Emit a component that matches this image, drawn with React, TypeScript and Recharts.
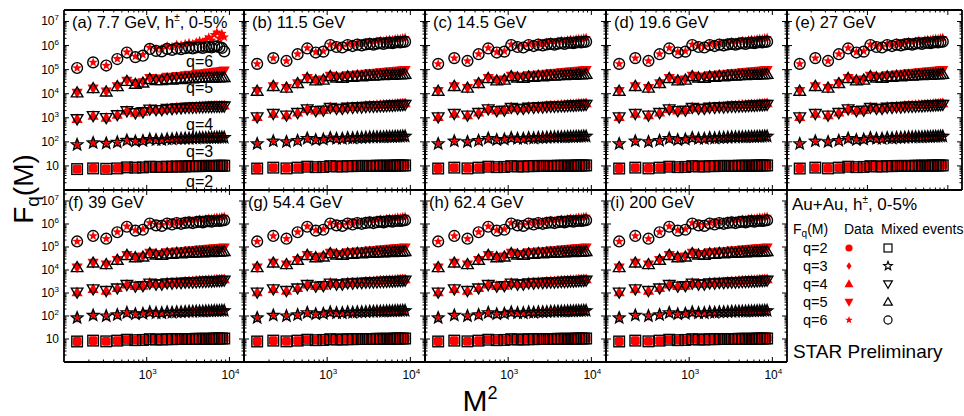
import React from 'react';
import { ScatterChart, Scatter, XAxis, YAxis } from 'recharts';

const FONT = '"Liberation Sans", Arial, Helvetica, sans-serif';
const RED = '#ff0000';

// M^2 values (M = 12, 15, ..., 93)
const M2 = [144, 225, 324, 441, 576, 729, 900, 1089, 1296, 1521, 1764, 2025, 2304, 2601, 2916, 3249, 3600, 3969, 4356, 4761, 5184, 5625, 6084, 6561, 7056, 7569, 8100, 8649];

const TITLES = ['(a) 7.7 GeV', '(b) 11.5 GeV', '(c) 14.5 GeV', '(d) 19.6 GeV', '(e) 27 GeV', '(f) 39 GeV', '(g) 54.4 GeV', '(h) 62.4 GeV', '(i) 200 GeV'];
const Q_LABELS = ['q=2', 'q=3', 'q=4', 'q=5', 'q=6'];
const X_MAJOR = [1000, 10000];
const Y_MAJOR = [10, 100, 1000, 10000, 100000, 1000000, 10000000];

// Panel (a) 7.7 GeV
const A_MIX_Q2 = [7.4, 7.9, 7.6, 7.9, 8.7, 8.5, 8.7, 9.3, 9.1, 9.1, 9.3, 9.3, 9.5, 9.5, 9.5, 9.8, 9.8, 9.8, 9.8, 10, 10, 10, 10, 10, 10, 10.2, 10.2, 10.2];
const A_DATA_Q2 = [7.4, 7.9, 7.6, 7.9, 8.7, 8.5, 8.7, 9.3, 9.1, 9.2, 9.4, 9.4, 9.6, 9.6, 9.6, 9.9, 9.9, 9.9, 9.9, 10.1, 10.1, 10.1, 10.1, 10.2, 10.2, 10.3, 10.4, 10.4];
const A_MIX_Q3 = [76, 91, 87, 96, 115, 105, 110, 126, 120, 120, 129, 129, 135, 135, 138, 138, 141, 141, 145, 145, 145, 148, 148, 148, 151, 151, 151, 151];
const A_DATA_Q3 = [76, 91, 87, 96, 116, 106, 111, 128, 122, 122, 131, 131, 138, 138, 141, 141, 145, 145, 149, 149, 149, 153, 153, 153, 156, 156, 157, 157];
const A_MIX_Q4 = [891, 1200, 1000, 1320, 1910, 1580, 1740, 2240, 2140, 2140, 2400, 2340, 2510, 2510, 2630, 2690, 2690, 2750, 2820, 2820, 2880, 2880, 2880, 2950, 2950, 2950, 3020, 3020];
const A_DATA_Q4 = [891, 1200, 1000, 1330, 1950, 1620, 1780, 2290, 2210, 2210, 2500, 2450, 2630, 2630, 2750, 2820, 2820, 2900, 2980, 2980, 3050, 3060, 3060, 3150, 3160, 3160, 3240, 3250];
const A_MIX_Q5 = [11000, 16600, 12000, 20000, 33100, 25100, 28200, 39800, 35500, 35500, 39800, 38000, 41700, 39800, 42700, 43700, 42700, 44700, 45700, 44700, 45700, 46800, 45700, 46800, 47900, 46800, 47900, 47900];
const A_DATA_Q5 = [11000, 16600, 12300, 20400, 34700, 26900, 30200, 44700, 41700, 42700, 50100, 49000, 55000, 53700, 58900, 61700, 60300, 66100, 69200, 67600, 72400, 75900, 74100, 79400, 83200, 81300, 87100, 91200];
const A_MIX_Q6 = [117000, 200000, 148000, 275000, 513000, 331000, 380000, 724000, 603000, 575000, 724000, 661000, 759000, 708000, 776000, 813000, 759000, 832000, 851000, 794000, 871000, 891000, 832000, 912000, 933000, 851000, 794000, 575000];
const A_DATA_Q6 = [117000, 200000, 148000, 282000, 537000, 355000, 417000, 832000, 724000, 724000, 955000, 891000, 1100000, 1050000, 1200000, 1320000, 1200000, 1410000, 1580000, 1380000, 1780000, 2240000, 1660000, 2820000, 3550000, 2000000, 3160000, 2240000];

// Panels (b)-(i): values read as common to these energies
const MIX_Q2 = [7.8, 8.5, 7.9, 8.5, 9.3, 8.9, 9.1, 9.8, 9.5, 9.5, 9.8, 9.8, 10, 10, 10, 10, 10, 10.2, 10.2, 10.2, 10.2, 10.2, 10.2, 10.5, 10.5, 10.5, 10.5, 10.5];
const DATA_Q2 = [7.8, 8.5, 7.9, 8.5, 9.3, 8.9, 9.1, 9.8, 9.6, 9.6, 9.9, 9.9, 10.1, 10.1, 10.1, 10.2, 10.2, 10.3, 10.3, 10.3, 10.4, 10.4, 10.4, 10.6, 10.6, 10.6, 10.7, 10.7];
const MIX_Q3 = [83, 107, 100, 112, 138, 120, 126, 145, 135, 135, 145, 141, 148, 148, 151, 155, 155, 158, 158, 158, 162, 162, 162, 166, 166, 166, 170, 170];
const DATA_Q3 = [83, 107, 100, 113, 140, 122, 128, 148, 138, 138, 149, 145, 152, 152, 156, 160, 160, 163, 164, 164, 168, 168, 168, 172, 173, 173, 177, 178];
const MIX_Q4 = [1070, 1480, 1260, 1620, 2290, 1950, 2040, 2630, 2400, 2400, 2690, 2630, 2820, 2750, 2880, 2950, 2950, 3020, 3090, 3090, 3160, 3240, 3240, 3310, 3390, 3390, 3470, 3550];
const DATA_Q4 = [1070, 1480, 1260, 1660, 2340, 2000, 2090, 2750, 2510, 2510, 2880, 2820, 3020, 2950, 3160, 3240, 3240, 3390, 3470, 3470, 3550, 3630, 3630, 3720, 3800, 3800, 3890, 3980];
const MIX_Q5 = [12900, 20400, 17400, 26900, 43700, 34700, 37200, 52500, 45700, 44700, 51300, 49000, 53700, 51300, 55000, 56200, 55000, 57500, 58900, 57500, 60300, 60300, 58900, 61700, 63100, 61700, 63100, 64600];
const DATA_Q5 = [12900, 20400, 17400, 27500, 44700, 36300, 38900, 56200, 50100, 50100, 58900, 57500, 63100, 61700, 67600, 70800, 69200, 74100, 77600, 75900, 81300, 83200, 83200, 87100, 89100, 89100, 93300, 95500];
const MIX_Q6 = [174000, 302000, 229000, 437000, 759000, 513000, 562000, 1050000, 871000, 832000, 1050000, 955000, 1100000, 1020000, 1120000, 1170000, 1100000, 1200000, 1260000, 1170000, 1290000, 1320000, 1260000, 1350000, 1380000, 1350000, 1410000, 1450000];
const DATA_Q6 = [174000, 302000, 229000, 447000, 794000, 537000, 589000, 1120000, 955000, 933000, 1200000, 1120000, 1290000, 1230000, 1350000, 1450000, 1380000, 1510000, 1620000, 1550000, 1700000, 1780000, 1740000, 1860000, 1950000, 1910000, 2040000, 2140000];

const A_SET = { data: [A_DATA_Q2, A_DATA_Q3, A_DATA_Q4, A_DATA_Q5, A_DATA_Q6], mix: [A_MIX_Q2, A_MIX_Q3, A_MIX_Q4, A_MIX_Q5, A_MIX_Q6] };
const T_SET = { data: [DATA_Q2, DATA_Q3, DATA_Q4, DATA_Q5, DATA_Q6], mix: [MIX_Q2, MIX_Q3, MIX_Q4, MIX_Q5, MIX_Q6] };

// layout
const COLS = [64, 244, 425, 606, 787, 962];
const ROWS = [10, 190, 362];
const X_DOMAIN: [number, number] = [100, 15000];
const Y_DOMAIN: [number, number] = [1, 30000000];
const MULT = [2, 3, 4, 5, 6, 7, 8, 9];
const X_TICKS = [100, 1000].flatMap((d) => MULT.map((m) => m * d)).concat(X_MAJOR).sort((a, b) => a - b);
const Y_TICKS = [1, ...Y_MAJOR].flatMap((d) => MULT.map((m) => m * d)).filter((v) => v < Y_DOMAIN[1]).concat(Y_MAJOR).sort((a, b) => a - b);

const isMajor = (v: number) => Math.abs(Math.log10(v) - Math.round(Math.log10(v))) < 1e-9;

function starPts(cx: number, cy: number, ro: number, ri: number) {
  const pts: string[] = [];
  for (let i = 0; i < 10; i++) {
    const r = i % 2 === 0 ? ro : ri;
    const a = -Math.PI / 2 + (i * Math.PI) / 5;
    pts.push(`${(cx + r * Math.cos(a)).toFixed(2)},${(cy + r * Math.sin(a)).toFixed(2)}`);
  }
  return pts.join(' ');
}

function dataMarker(q: number, cx: number, cy: number, s: number, legend = false) {
  switch (q) {
    case 2:
      return legend ? <circle cx={cx} cy={cy} r={4.5 * s} fill={RED} /> : <rect x={cx - 4.4 * s} y={cy - 4.4 * s} width={8.8 * s} height={8.8 * s} rx={1.8 * s} fill={RED} />;
    case 3:
      return <polygon points={`${cx},${cy - 4.8 * s} ${cx + 3.2 * s},${cy} ${cx},${cy + 4.8 * s} ${cx - 3.2 * s},${cy}`} fill={RED} />;
    case 4:
      return <polygon points={`${cx},${cy - 5.8 * s} ${cx + 5.6 * s},${cy + 4 * s} ${cx - 5.6 * s},${cy + 4 * s}`} fill={RED} />;
    case 5:
      return <polygon points={`${cx},${cy + 5.8 * s} ${cx + 5.6 * s},${cy - 4 * s} ${cx - 5.6 * s},${cy - 4 * s}`} fill={RED} />;
    default:
      return <polygon points={starPts(cx, cy, 5 * s, 2.1 * s)} fill={RED} />;
  }
}

function mixMarker(q: number, cx: number, cy: number, s: number, sw = 1.4) {
  const st = { fill: 'none', stroke: '#000', strokeWidth: sw };
  switch (q) {
    case 2:
      return <rect x={cx - 5.3 * s} y={cy - 5.3 * s} width={10.6 * s} height={10.6 * s} {...st} />;
    case 3:
      return <polygon points={starPts(cx, cy, 6 * s, 2.6 * s)} {...st} />;
    case 4:
      return <polygon points={`${cx},${cy + 5.8 * s} ${cx + 5.8 * s},${cy - 4.2 * s} ${cx - 5.8 * s},${cy - 4.2 * s}`} {...st} />;
    case 5:
      return <polygon points={`${cx},${cy - 5.8 * s} ${cx + 5.8 * s},${cy + 4.2 * s} ${cx - 5.8 * s},${cy + 4.2 * s}`} {...st} />;
    default:
      return <circle cx={cx} cy={cy} r={5.4 * s} {...st} />;
  }
}

function Tick(props: any) {
  const { x, y, payload, side, label } = props;
  const v = payload.value as number;
  const major = isMajor(v);
  const L = major ? 5 : 2.5;
  let ln: any = null;
  if (side === 'b') ln = <line x1={x} y1={y} x2={x} y2={y - L} />;
  else if (side === 't') ln = <line x1={x} y1={y} x2={x} y2={y + L} />;
  else if (side === 'l') ln = <line x1={x} y1={y} x2={x + L} y2={y} />;
  else ln = <line x1={x} y1={y} x2={x - L} y2={y} />;
  const e = Math.round(Math.log10(v));
  let txt: any = null;
  if (label && major) {
    if (side === 'b') {
      txt = (
        <text x={x + 1} y={y + 17} textAnchor="middle" fontSize={12} fill="#000" fontFamily={FONT}>
          10<tspan dy={-5} fontSize={8}>{e}</tspan>
        </text>
      );
    } else if (side === 'l') {
      txt = e === 1 ? (
        <text x={x - 5} y={y + 4} textAnchor="end" fontSize={12} fill="#000" fontFamily={FONT}>10</text>
      ) : (
        <text x={x - 5} y={y + 4} textAnchor="end" fontSize={12} fill="#000" fontFamily={FONT}>
          10<tspan dy={-5} fontSize={8}>{e}</tspan>
        </text>
      );
    }
  }
  return (
    <g stroke="#000" strokeWidth={1}>
      {ln}
      <g stroke="none">{txt}</g>
    </g>
  );
}

const AXIS_LINE = { stroke: '#000', strokeWidth: 1.8 };

function Panel({ idx }: { idx: number }) {
  const col = idx % 5;
  const row = Math.floor(idx / 5);
  const x0 = COLS[col];
  const y0 = ROWS[row];
  const w = COLS[col + 1] - x0;
  const h = ROWS[row + 1] - y0;
  const P = 40;
  const set = idx === 0 ? A_SET : T_SET;
  return (
    <div style={{ position: 'absolute', left: x0 - P, top: y0 - P }}>
      <ScatterChart width={w + 2 * P} height={h + 2 * P} margin={{ top: P - 1, right: P - 1, bottom: P - 1, left: P - 1 }} style={{ overflow: 'visible' }}>
        <XAxis xAxisId="b" dataKey="x" type="number" scale="log" domain={X_DOMAIN} allowDataOverflow ticks={X_TICKS} interval={0} height={1} tickSize={0} tickMargin={0} tickLine={false} axisLine={AXIS_LINE} tick={(p: any) => <Tick {...p} side="b" label={row === 1} />} />
        <XAxis xAxisId="t" orientation="top" dataKey="x" type="number" scale="log" domain={X_DOMAIN} allowDataOverflow ticks={X_TICKS} interval={0} height={1} tickSize={0} tickMargin={0} tickLine={false} axisLine={AXIS_LINE} tick={(p: any) => <Tick {...p} side="t" />} />
        <YAxis yAxisId="l" dataKey="y" type="number" scale="log" domain={Y_DOMAIN} allowDataOverflow ticks={Y_TICKS} interval={0} width={1} tickSize={0} tickMargin={0} tickLine={false} axisLine={AXIS_LINE} tick={(p: any) => <Tick {...p} side="l" label={col === 0} />} />
        <YAxis yAxisId="r" orientation="right" dataKey="y" type="number" scale="log" domain={Y_DOMAIN} allowDataOverflow ticks={Y_TICKS} interval={0} width={1} tickSize={0} tickMargin={0} tickLine={false} axisLine={AXIS_LINE} tick={(p: any) => <Tick {...p} side="r" />} />
        {[0, 1, 2, 3, 4].map((k) => (
          <Scatter
            key={`d${k}`}
            xAxisId="b"
            yAxisId="l"
            data={M2.map((x, i) => ({ x, y: set.data[k][i] }))}
            isAnimationActive={false}
            shape={(p: any) => dataMarker(k + 2, p.cx, p.cy, 1)}
          />
        ))}
        {[0, 1, 2, 3, 4].map((k) => (
          <Scatter
            key={`m${k}`}
            xAxisId="b"
            yAxisId="l"
            data={M2.map((x, i) => ({ x, y: set.mix[k][i] }))}
            isAnimationActive={false}
            shape={(p: any) => mixMarker(k + 2, p.cx, p.cy, 1)}
          />
        ))}
      </ScatterChart>
    </div>
  );
}

function Overlay() {
  const txt = { fontFamily: FONT, fill: '#000' } as any;
  const rowsY = [248, 266, 284, 302, 320];
  const qLabelY = [187, 157, 130, 93, 67];
  return (
    <svg width={964} height={416} style={{ position: 'absolute', left: 0, top: 0, pointerEvents: 'none' }}>
      {TITLES.map((t, i) => {
        const col = i % 5;
        const row = Math.floor(i / 5);
        return (
          <text key={t} x={COLS[col] + (row === 0 ? 8 : 4)} y={ROWS[row] + 17.5} fontSize={16.5} {...txt}>
            {t}
            {i === 0 ? (
              <>
                {', h'}
                <tspan dx={0} dy={-7} fontSize={10}>±</tspan>
                <tspan dy={7}>{', 0-5%'}</tspan>
              </>
            ) : null}
          </text>
        );
      })}
      {Q_LABELS.map((q, i) => (
        <text key={q} x={186} y={qLabelY[i]} fontSize={16} {...txt}>{q}</text>
      ))}
      <text transform="translate(33,189) rotate(-90)" textAnchor="middle" fontSize={28} {...txt}>
        F<tspan fontSize={19} dy={6}>q</tspan><tspan dy={-6}>(M)</tspan>
      </text>
      <text x={480} y={411} textAnchor="middle" fontSize={30} {...txt}>
        M<tspan dy={-12} fontSize={18}>2</tspan>
      </text>
      <text x={792} y={210} fontSize={17} {...txt}>
        Au+Au, h<tspan dx={0} dy={-7} fontSize={10}>±</tspan><tspan dy={7}>, 0-5%</tspan>
      </text>
      <text x={793} y={234} fontSize={14} {...txt}>
        F<tspan fontSize={10} dy={3}>q</tspan><tspan dy={-3}>(M)</tspan>
      </text>
      <text x={844} y={234} fontSize={14} {...txt}>Data</text>
      <text x={881} y={234} fontSize={14} {...txt}>Mixed events</text>
      {Q_LABELS.map((q, i) => (
        <g key={q}>
          <text x={803} y={rowsY[i] + 5} fontSize={14.5} {...txt}>{q}</text>
          {dataMarker(i + 2, 849, rowsY[i], 0.8, true)}
          {mixMarker(i + 2, 888, rowsY[i], 0.75, 1.2)}
        </g>
      ))}
      <text x={793} y={358} fontSize={19} {...txt}>STAR Preliminary</text>
    </svg>
  );
}

export default function App() {
  return (
    <div style={{ position: 'absolute', left: 0, top: 0, width: 964, height: 416, background: '#fff', overflow: 'hidden', fontFamily: FONT }}>
      {[0, 1, 2, 3, 4, 5, 6, 7, 8].map((i) => (
        <Panel key={i} idx={i} />
      ))}
      <Overlay />
    </div>
  );
}
